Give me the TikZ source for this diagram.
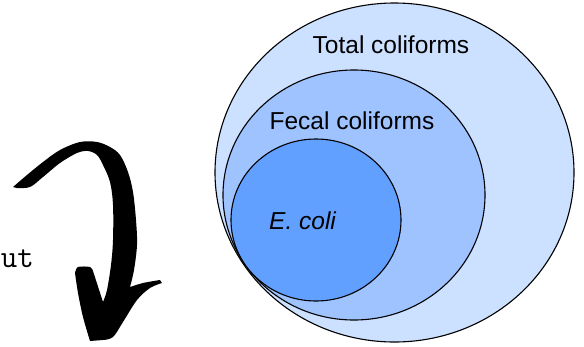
\documentclass[tikz,border=0pt]{standalone}
\usepackage{fontspec}
\setmainfont{Liberation Sans}
\definecolor{outerblue}{RGB}{204,224,255}
\definecolor{midblue}{RGB}{158,195,255}
\definecolor{innerblue}{RGB}{98,160,255}
\begin{document}
\begin{tikzpicture}[x=1pt,y=-1pt,
  setring/.style={draw=black,line width=1.1pt},
  setlabel/.style={inner sep=0pt,font=\fontsize{24.5}{28}\selectfont},
  cuttext/.style={inner sep=0pt,font=\ttfamily\fontsize{32}{36}\selectfont}]
\useasboundingbox (0,0) rectangle (584,346);
\clip (0,0) rectangle (584,346);
% sets
\draw[setring,fill=outerblue] (394.5,172.5) ellipse [x radius=179.5,y radius=169.5];
\draw[setring,fill=midblue] (354,195) ellipse [x radius=131,y radius=125];
\draw[setring,fill=innerblue] (316,220) ellipse [x radius=85,y radius=81];
\node[setlabel,anchor=base] (total) at (391,53) {Total coliforms};
\node[setlabel,anchor=base] (fecal) at (352,129) {Fecal coliforms};
\node[setlabel,anchor=base west] (ecoli) at (269,229) {\itshape E. coli};
% cut-off text
\node[cuttext,anchor=base east] (cut) at (34,267) {ut};
% brush arrow
\fill[black]
  plot[smooth,tension=0.55] coordinates {(13,187) (27,175) (43,162) (60,150) (80,142) (97,142) (110,147) (120,155) (128,172) (133,192) (136,220) (137,245) (134,270) (130,287)}
  -- plot[smooth,tension=0.5] coordinates {(130,287) (143,283) (160,280)}
  -- (162,283)
  -- plot[smooth,tension=0.55] coordinates {(162,283) (150,288) (137,300) (123,322) (113,337) (103,340)}
  -- (90,341)
  -- plot[smooth,tension=0.5] coordinates {(90,341) (83,317) (78,293) (75,273)}
  -- plot[smooth,tension=0.5] coordinates {(75,273) (78,267) (90,267) (93,271)}
  -- (103,302)
  -- plot[smooth,tension=0.55] coordinates {(103,302) (107,290) (111,265) (113,240) (113,205) (110,182) (103,165) (97,155) (88,151) (77,153) (60,163) (43,177) (30,187) (17,188)}
  -- cycle;
\end{tikzpicture}
\end{document}
